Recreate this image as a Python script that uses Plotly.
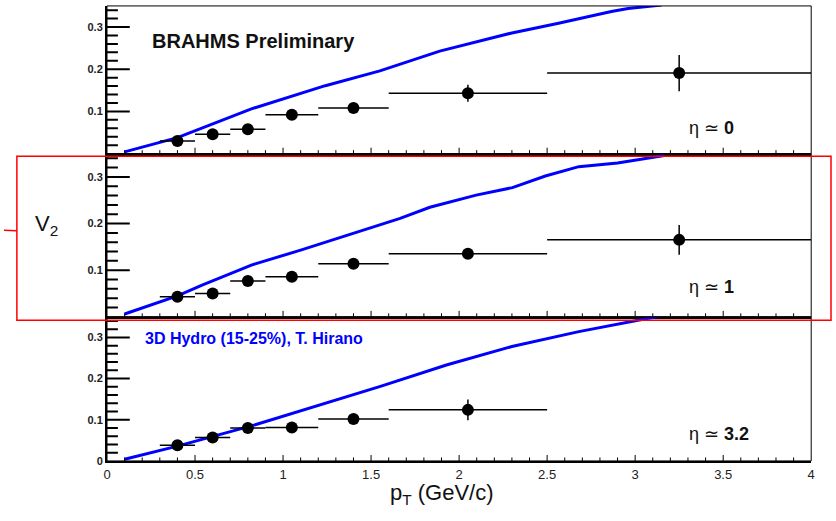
import plotly.graph_objects as go

# ---- data -------------------------------------------------------------
# pT bins (GeV/c): centres and half widths
pt_center = [0.4, 0.6, 0.8, 1.05, 1.4, 2.05, 3.25]
pt_halfwidth = [0.1, 0.1, 0.1, 0.15, 0.2, 0.45, 0.75]

# measured v2 at eta ~ 0
v2_eta0 = [0.030, 0.046, 0.058, 0.092, 0.108, 0.143, 0.191]
v2_eta0_err = [0.005, 0.005, 0.005, 0.006, 0.008, 0.020, 0.043]

# measured v2 at eta ~ 1
v2_eta1 = [0.043, 0.050, 0.077, 0.086, 0.114, 0.135, 0.165]
v2_eta1_err = [0.004, 0.004, 0.005, 0.006, 0.008, 0.011, 0.032]

# measured v2 at eta ~ 3.2 (no last bin)
v2_eta32 = [0.038, 0.057, 0.080, 0.081, 0.102, 0.124]
v2_eta32_err = [0.004, 0.005, 0.006, 0.007, 0.009, 0.025]

# 3D hydro curves (15-25%)
hydro0_pt = [0.1, 0.4, 0.82, 1.24, 1.55, 1.89, 2.30, 2.565, 2.865, 2.96, 3.15]
hydro0_v2 = [0.004, 0.038, 0.106, 0.161, 0.196, 0.243, 0.286, 0.309, 0.337, 0.344, 0.352]

hydro1_pt = [0.1, 0.4, 0.54, 0.82, 1.10, 1.384, 1.665, 1.834, 2.097, 2.303, 2.49, 2.68, 2.90, 3.166]
hydro1_v2 = [0.006, 0.045, 0.068, 0.111, 0.143, 0.178, 0.211, 0.235, 0.261, 0.277, 0.302, 0.322, 0.330, 0.346]

hydro32_pt = [0.1, 0.4, 0.82, 1.243, 1.553, 1.928, 2.30, 2.68, 3.053, 3.166]
hydro32_v2 = [0.004, 0.036, 0.085, 0.141, 0.181, 0.233, 0.278, 0.314, 0.344, 0.354]

x_range = [0, 4]
y_range = [0, 0.35]

# ---- layout geometry ---------------------------------------------------
W, H = 836, 521
FONT = "Liberation Sans, Arial, Helvetica, sans-serif"
BLUE = "#0000ff"
RED = "#ff0000"

PLOT_LEFT, PLOT_RIGHT = 104, 815
PLOT_W = PLOT_RIGHT - PLOT_LEFT


def px_x(p):
    return p / W


def px_y(p):
    return 1 - p / H


x_dom = [px_x(PLOT_LEFT), px_x(PLOT_RIGHT)]
panels = [
    # (top px, bottom px) of each pad
    (6, 155.4),
    (155.4, 320.5),
    (320.5, 466.3),
]

# tick steps (ROOT-style: majors with subdivisions)
X_MAJOR, X_SUB = 0.5, 5        # 0.1 minor step
Y_MAJOR, Y_SUB = 0.1, 5        # 0.02 minor step

fig = go.Figure()

datasets = [
    (v2_eta0, v2_eta0_err, pt_center, pt_halfwidth, hydro0_pt, hydro0_v2),
    (v2_eta1, v2_eta1_err, pt_center, pt_halfwidth, hydro1_pt, hydro1_v2),
    (v2_eta32, v2_eta32_err, pt_center[:6], pt_halfwidth[:6], hydro32_pt, hydro32_v2),
]

for i, (vals, errs, xs, xerrs, hx, hy) in enumerate(datasets):
    sfx = "" if i == 0 else str(i + 1)
    fig.add_trace(go.Scatter(
        x=hx, y=hy, mode="lines",
        line=dict(color=BLUE, width=3),
        xaxis="x" + sfx, yaxis="y" + sfx, showlegend=False,
    ))
    fig.add_trace(go.Scatter(
        x=xs, y=vals, mode="markers",
        marker=dict(color="black", size=12),
        error_x=dict(type="data", array=xerrs, color="black", thickness=1.5, width=0),
        error_y=dict(type="data", array=errs, color="black", thickness=1.5, width=0),
        xaxis="x" + sfx, yaxis="y" + sfx, showlegend=False,
    ))

layout = dict(
    width=W, height=H,
    margin=dict(l=0, r=0, t=0, b=0),
    paper_bgcolor="white", plot_bgcolor="white",
    showlegend=False,
)

for i, (top, bot) in enumerate(panels):
    sfx = "" if i == 0 else str(i + 1)
    last = i == 2
    layout["xaxis" + sfx] = dict(
        domain=x_dom, range=x_range, anchor="y" + sfx,
        showgrid=False, zeroline=False,
        showline=True, linewidth=2, linecolor="black",
        ticks="", dtick=X_MAJOR,
        showticklabels=last,
        tickfont=dict(family=FONT, size=13, color="#222"),
    )
    yax = dict(
        domain=[px_y(bot), px_y(top)], range=y_range, anchor="x" + sfx,
        showgrid=False, zeroline=False,
        showline=True, linewidth=2, linecolor="black",
        ticks="", dtick=Y_MAJOR,
        tickfont=dict(family=FONT, size=11, color="#222", weight="bold"),
    )
    if not last:
        # upper pads share the zero with the pad below: no "0" label
        yax["labelalias"] = {"0": " "}
    layout["yaxis" + sfx] = yax

shapes = []
for i, (top, bot) in enumerate(panels):
    sfx = "" if i == 0 else str(i + 1)
    xr, yr = "x" + sfx, "y" + sfx
    pad_h = bot - top

    # thin frame around the pad
    shapes.append(dict(
        type="rect", xref=xr + " domain", yref=yr + " domain",
        x0=0, x1=1, y0=0, y1=1, line=dict(color="black", width=1),
    ))

    # tick marks drawn inward from the left axis (long majors, short minors)
    y_step = Y_MAJOR / Y_SUB
    k = 1
    while k * y_step < y_range[1] - 1e-9:
        major = k % Y_SUB == 0
        length = 23 if major else 11
        shapes.append(dict(
            type="line", xref=xr + " domain", yref=yr,
            x0=0, x1=length / PLOT_W, y0=k * y_step, y1=k * y_step,
            line=dict(color="black", width=2),
        ))
        k += 1

    # tick marks drawn upward from the bottom axis
    x_step = X_MAJOR / X_SUB
    k = 1
    while k * x_step < x_range[1] - 1e-9:
        major = k % X_SUB == 0
        length = 6 if major else 3.5
        shapes.append(dict(
            type="line", xref=xr, yref=yr + " domain",
            x0=k * x_step, x1=k * x_step, y0=0, y1=length / pad_h,
            line=dict(color="black", width=1),
        ))
        k += 1

# red highlight box around the eta ~ 1 pad with a lead line
shapes.append(dict(
    type="rect", xref="paper", yref="paper",
    x0=px_x(13), x1=px_x(835), y0=px_y(324), y1=px_y(158),
    line=dict(color=RED, width=1.5),
))
shapes.append(dict(
    type="line", xref="paper", yref="paper",
    x0=px_x(0), x1=px_x(13), y0=px_y(233), y1=px_y(233.5),
    line=dict(color=RED, width=1.5),
))
layout["shapes"] = shapes

annotations = [
    dict(text="<b>BRAHMS Preliminary</b>", x=px_x(252), y=px_y(41),
         font=dict(size=20, color="#111")),
    dict(text="<b>3D Hydro (15-25%), T. Hirano</b>", x=px_x(252), y=px_y(342),
         font=dict(size=16, color=BLUE)),
    dict(text="\u03b7 \u2243 <b>0</b>", x=px_x(690), y=px_y(129), xanchor="left",
         font=dict(size=18, color="#111")),
    dict(text="\u03b7 \u2243 <b>1</b>", x=px_x(690), y=px_y(290), xanchor="left",
         font=dict(size=18, color="#111")),
    dict(text="\u03b7 \u2243 <b>3.2</b>", x=px_x(690), y=px_y(439), xanchor="left",
         font=dict(size=18, color="#111")),
    dict(text="V<sub>2</sub>", x=px_x(29), y=px_y(228), xanchor="left",
         font=dict(size=22, color="#111")),
    dict(text="p<sub>T</sub> (GeV/c)", x=px_x(388), y=px_y(500), xanchor="left",
         font=dict(size=22, color="#111")),
]
for a in annotations:
    a.setdefault("xanchor", "center")
    a.update(xref="paper", yref="paper", yanchor="middle", showarrow=False,
             font=dict(family=FONT, **a["font"]))
layout["annotations"] = annotations

fig.update_layout(**layout)
fig.write_html("out.html")
